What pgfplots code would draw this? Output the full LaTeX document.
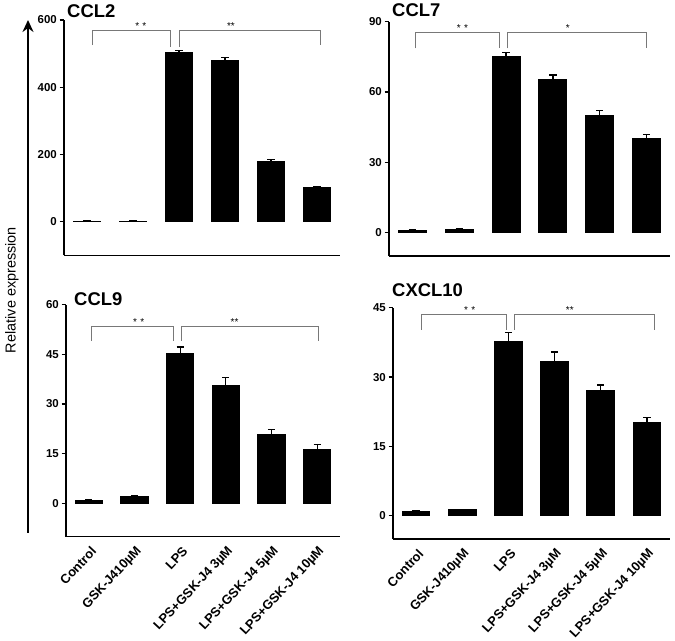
\documentclass[border=0pt]{standalone}
\usepackage{fontspec}
\setmainfont{Liberation Sans}
\usepackage{pgfplots}
\pgfplotsset{compat=1.18}
\usetikzlibrary{arrows.meta}
\definecolor{brk}{RGB}{120,120,120}
\tikzset{
  stars/.style={font=\fontsize{10}{10}\selectfont, anchor=south, inner sep=0.5bp},
  bline/.style={brk, line width=1pt},
}
\pgfplotsset{
  panel/.style={
    scale only axis, anchor=south west, clip=false,
    axis x line=bottom, axis y line=left,
    axis line style={-, line width=1.3pt, black},
    xmin=-0.5, xmax=5.5,
    ybar, bar width=0.6,
    tick align=outside, major tick length=4.5bp,
    ytick style={line width=1.2pt, black},
    x tick style={draw=none},
    yticklabel style={font=\bfseries\fontsize{11.5}{12}\selectfont, inner sep=2.5bp},
    /pgf/number format/assume math mode=true,
    xtick=\empty,
  },
  xlabs/.style={
    xtick={0,1,2,3,4,5},
    xticklabels={Control, GSK-J410µM, LPS, LPS+GSK-J4 3µM, LPS+GSK-J4 5µM, LPS+GSK-J4 10µM},
    xticklabel style={rotate=47, anchor=east, font=\bfseries\fontsize{13}{14}\selectfont, xshift=1bp, yshift=-9bp},
  },
  barplot/.style={
    fill=black, draw=black, line width=1pt,
    error bars/.cd, y dir=plus, y explicit,
    error bar style={line width=1.3pt, black},
    error mark options={rotate=90, mark size=3.6bp, line width=1.3pt, black},
  },
}
\begin{document}
\begin{tikzpicture}
\useasboundingbox (0,0) rectangle (675bp,641bp);
% left arrow and label
\draw[line width=1.8pt, -{Stealth[length=12bp,width=11bp]}] (28bp,108bp) -- (28bp,621bp);
\node[rotate=90, font=\fontsize{14.5}{15}\selectfont] at (12bp,351bp) {Relative expression};

% CCL2
\begin{axis}[panel, at={(64bp,385.5bp)}, width=276bp, height=235.5bp,
  ymin=-100, ymax=600, ytick={0,200,400,600}]
\addplot[barplot] coordinates {(0,2) +- (0,1) (1,2) +- (0,1) (2,502) +- (0,8) (3,480) +- (0,8) (4,180) +- (0,6) (5,101) +- (0,4)};
\draw[bline] (axis cs:0.11,525) |- (axis cs:1.82,570) -- (axis cs:1.82,520);
\draw[bline] (axis cs:2.0,520) |- (axis cs:5.08,570) -- (axis cs:5.08,525);
\node[stars] at (axis cs:1.17,570) {*\,\,*};
\node[stars] at (axis cs:3.13,570) {**};
\end{axis}
\node[anchor=base west, font=\bfseries\fontsize{18.5}{20}\selectfont, inner sep=0pt] at (67bp,623bp) {CCL2};

% CCL7
\begin{axis}[panel, at={(389bp,385bp)}, width=281bp, height=234.3bp,
  ymin=-10, ymax=90, ytick={0,30,60,90}]
\addplot[barplot] coordinates {(0,1.0) +- (0,0.2) (1,1.3) +- (0,0.2) (2,75.1) +- (0,1.8) (3,65.4) +- (0,1.9) (4,49.9) +- (0,2.3) (5,40.1) +- (0,1.8)};
\draw[bline] (axis cs:0.07,78.6) |- (axis cs:1.86,85.5) -- (axis cs:1.86,78.6);
\draw[bline] (axis cs:2.02,78.6) |- (axis cs:4.99,85.5) -- (axis cs:4.99,78.6);
\node[stars] at (axis cs:1.07,85.5) {*\,\,*};
\node[stars] at (axis cs:3.32,85.5) {*};
\end{axis}
\node[anchor=base west, font=\bfseries\fontsize{18.5}{20}\selectfont, inner sep=0pt] at (392bp,624bp) {CCL7};

% CCL9
\begin{axis}[panel, xlabs, at={(66bp,104.5bp)}, width=274bp, height=232bp,
  ymin=-10, ymax=60, ytick={0,15,30,45,60}]
\addplot[barplot] coordinates {(0,1.0) +- (0,0.2) (1,2.0) +- (0,0.2) (2,45.1) +- (0,2.1) (3,35.6) +- (0,2.3) (4,20.8) +- (0,1.4) (5,16.3) +- (0,1.5)};
\draw[bline] (axis cs:0.05,49) |- (axis cs:1.85,53.5) -- (axis cs:1.85,49);
\draw[bline] (axis cs:2.02,49) |- (axis cs:5.02,53.5) -- (axis cs:5.02,49);
\node[stars] at (axis cs:1.09,53.5) {*\,\,*};
\node[stars] at (axis cs:3.19,53.5) {**};
\end{axis}
\node[anchor=base west, font=\bfseries\fontsize{18.5}{20}\selectfont, inner sep=0pt] at (74bp,335bp) {CCL9};

% CXCL10
\begin{axis}[panel, xlabs, at={(393bp,102bp)}, width=277bp, height=231.3bp,
  ymin=-5, ymax=45, ytick={0,15,30,45}]
\addplot[barplot] coordinates {(0,1.0) +- (0,0.15) (1,1.3) +- (0,0.15) (2,37.8) +- (0,1.8) (3,33.4) +- (0,2.0) (4,27.1) +- (0,1.2) (5,20.2) +- (0,1.1)};
\draw[bline] (axis cs:0.11,40.2) |- (axis cs:1.95,43.6) -- (axis cs:1.95,40.2);
\draw[bline] (axis cs:2.14,40.2) |- (axis cs:5.17,43.6) -- (axis cs:5.17,40.2);
\node[stars] at (axis cs:1.16,43.6) {*\,\,*};
\node[stars] at (axis cs:3.33,43.6) {**};
\end{axis}
\node[anchor=base west, font=\bfseries\fontsize{18.5}{20}\selectfont, inner sep=0pt] at (392bp,344bp) {CXCL10};
\end{tikzpicture}
\end{document}
